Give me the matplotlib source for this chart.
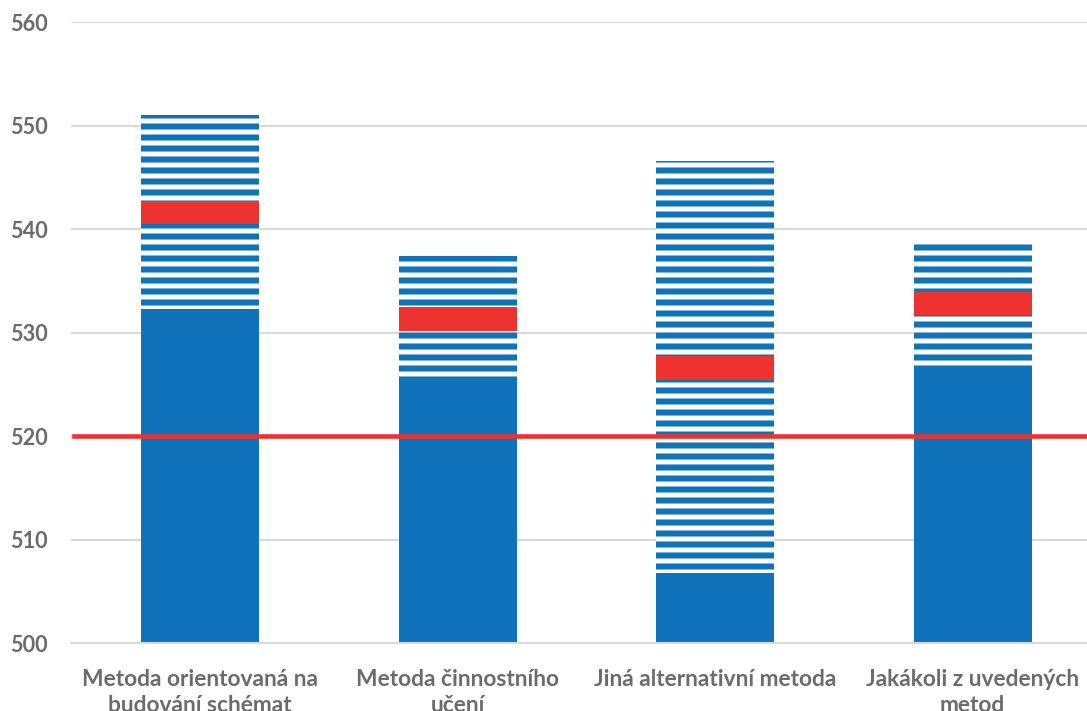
import matplotlib
matplotlib.use("Agg")
import matplotlib.pyplot as plt

# score ranges per teaching method (lower / upper bound of interval and mean)
methods = ["Metoda orientovaná na\nbudování schémat",
           "Metoda činnostního\nučení",
           "Jiná alternativní metoda",
           "Jakákoli z uvedených\nmetod"]
lower = [532.3, 525.7, 506.8, 526.8]
upper = [551.0, 537.4, 546.6, 538.6]
means = [541.6, 531.3, 526.6, 532.8]
reference_level = 520

BASE = 500
MEAN_BAND = 2.3
BLUE = "#1073BA"
RED = "#EE3230"
GREY = "#6B6B6B"

DPI = 132
plt.rcParams["font.family"] = ["Lato", "DejaVu Sans"]
plt.rcParams["hatch.linewidth"] = 3.3
plt.rcParams["hatch.color"] = BLUE

fig = plt.figure(figsize=(1087 / DPI, 711 / DPI), dpi=DPI)
ax = fig.add_axes([0.0656, 0.0956, 0.9476, 0.8734])

x = range(len(methods))
w = 0.458

# solid part up to the lower bound
ax.bar(x, [lo - BASE for lo in lower], bottom=BASE, width=w,
       color=BLUE, linewidth=0, zorder=2)
# striped interval between lower and upper bound
ax.bar(x, [hi - lo for lo, hi in zip(lower, upper)], bottom=lower, width=w,
       facecolor="white", edgecolor=BLUE, hatch="--", linewidth=0, zorder=2)
# mean marker
ax.bar(x, [MEAN_BAND] * len(means), bottom=[m - MEAN_BAND / 2 for m in means],
       width=w, color=RED, linewidth=0, zorder=3)

ax.axhline(reference_level, xmin=0.003, xmax=1, color=RED, linewidth=2.5, zorder=4)

ax.set_xlim(-0.5, 3.5)
ax.set_ylim(500, 560)
ax.set_yticks(range(500, 561, 10))
ax.yaxis.grid(True, color="#D9D9D9", linewidth=1.1, zorder=0)
ax.set_axisbelow(True)

for s in ["top", "right", "left"]:
    ax.spines[s].set_visible(False)
ax.spines["bottom"].set_color("#D9D9D9")
ax.spines["bottom"].set_linewidth(1.1)

ax.set_xticks(list(x))
ax.set_xticklabels(methods, fontsize=12.4, fontweight="bold", color=GREY,
                   linespacing=1.3)
ax.tick_params(axis="x", length=0, pad=14)
ax.tick_params(axis="y", length=0, pad=13, labelsize=11.8, labelcolor=GREY)
for t in ax.get_yticklabels():
    t.set_fontweight("bold")

fig.savefig("out.png", dpi=DPI)
